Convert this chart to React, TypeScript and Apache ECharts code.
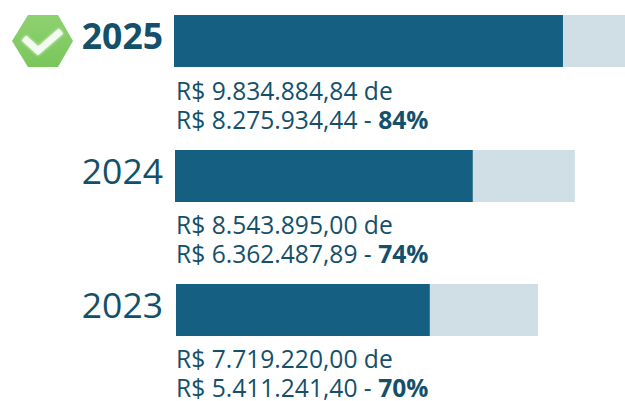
import React, { useEffect, useRef } from "react";
import * as echarts from "echarts";

const years = ["2025", "2024", "2023"];
const budget = [9834884.84, 8543895.0, 7719220.0];
const spent = [8275934.44, 6362487.89, 5411241.4];
const budgetLabels = ["R$ 9.834.884,84 de", "R$ 8.543.895,00 de", "R$ 7.719.220,00 de"];
const spentLabels = ["R$ 8.275.934,44 - ", "R$ 6.362.487,89 - ", "R$ 5.411.241,40 - "];
const percents = ["84%", "74%", "70%"];

const DARK = "#156082";
const LIGHT = "#d0dee5";
const TEXT = "#14506a";
const FONT = "'Open Sans'";
const PX_PER_UNIT = [4.70e-5, 4.68e-5, 4.69e-5];
const lefts = [174, 175, 176];
const tops = [15, 150, 284];
const textTops = [75.5, 209.5, 343.5];
const barH = 52;

export default function App() {
  const ref = useRef<HTMLDivElement>(null);
  useEffect(() => {
    document.body.style.margin = "0";
    const chart = echarts.init(ref.current!, undefined, { renderer: "svg" });
    const grids = years.map((_, i) => ({
      left: lefts[i],
      top: tops[i],
      width: 625 - lefts[i],
      height: barH,
    }));
    const xAxes = years.map((_, i) => ({
      type: "value" as const,
      gridIndex: i,
      min: 0,
      max: (625 - lefts[i]) / PX_PER_UNIT[i],
      show: false,
    }));
    const yAxes = years.map((y, i) => ({
      type: "category" as const,
      gridIndex: i,
      data: [y],
      axisLine: { show: false },
      axisTick: { show: false },
      splitLine: { show: false },
      axisLabel: {
        margin: 11 + i,
        formatter: "{y|{value}}",
        rich: {
          y: {
            fontFamily: FONT,
            fontSize: 35.5,
            fontWeight: i === 0 ? ("bold" as const) : ("normal" as const),
            color: TEXT,
            padding: [0, 0, 12, 0],
          },
        },
      },
    }));
    const series = years.flatMap((_, i) => [
      {
        type: "bar" as const,
        xAxisIndex: i,
        yAxisIndex: i,
        data: [budget[i]],
        barWidth: barH,
        barGap: "-100%",
        itemStyle: { color: LIGHT },
        silent: true,
      },
      {
        type: "bar" as const,
        xAxisIndex: i,
        yAxisIndex: i,
        data: [spent[i]],
        barWidth: barH,
        barGap: "-100%",
        itemStyle: { color: DARK },
        silent: true,
      },
    ]);
    const amountTexts = years.map((_, i) => ({
      type: "text" as const,
      left: 176,
      top: textTops[i],
      style: {
        text: `${budgetLabels[i]}\n${spentLabels[i]}{b|${percents[i]}}`,
        fontFamily: FONT,
        fontSize: 24.6,
        lineHeight: 29.5,
        fill: TEXT,
        rich: {
          b: { fontFamily: FONT, fontSize: 24.6, fontWeight: "bold", fill: TEXT, lineHeight: 29.5 },
        },
      },
    }));
    chart.setOption({
      animation: false,
      grid: grids,
      xAxis: xAxes,
      yAxis: yAxes,
      series,
      graphic: [
        {
          type: "polygon",
          shape: { points: [[12, 41], [28, 15], [58, 15], [73, 41], [58, 67], [28, 67]] },
          style: {
            fill: new echarts.graphic.LinearGradient(0, 0, 0, 1, [
              { offset: 0, color: "#8ed171" },
              { offset: 1, color: "#7ac65b" },
            ]),
          },
        },
        {
          type: "polyline",
          shape: { points: [[24, 38], [38, 51], [61, 31]] },
          style: { stroke: "#f3faf0", lineWidth: 6.5, fill: "none", shadowBlur: 3, shadowColor: "#ffffff" },
        },
        ...amountTexts,
      ],
    });
    return () => chart.dispose();
  }, []);
  return <div ref={ref} style={{ width: 625, height: 401 }} />;
}
